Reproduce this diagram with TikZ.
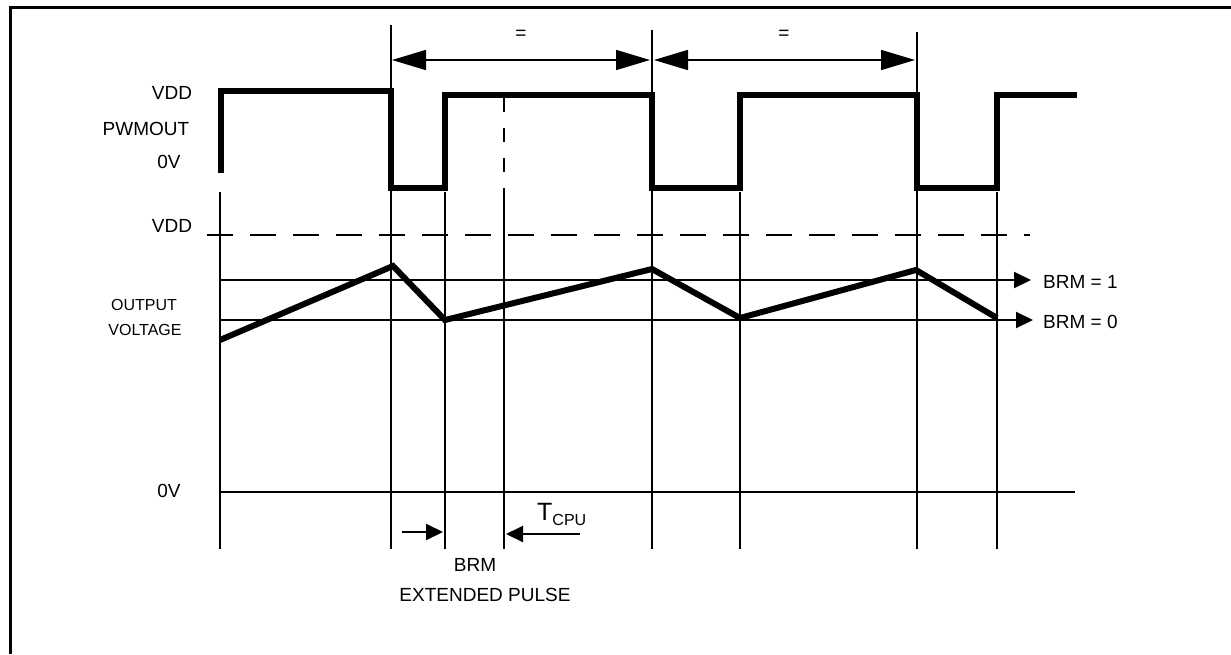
\documentclass[tikz,border=0pt]{standalone}
\usepackage{fontspec}
\setmainfont{Liberation Sans}
\usetikzlibrary{arrows.meta}
\begin{document}
\begin{tikzpicture}[x=1pt,y=-1pt,
  thinline/.style={line width=2pt},
  wave/.style={line width=6pt, line join=miter},
  lab/.style={font=\fontsize{19}{19}\selectfont, inner sep=0pt},
  smalllab/.style={font=\fontsize{16}{16}\selectfont, inner sep=0pt},
  dimarrow/.style={line width=1.6pt, {Triangle[length=34pt,width=20pt]}-{Triangle[length=34pt,width=20pt]}},
  tiparrow/.style={line width=2pt, -{Triangle[length=17pt,width=16pt]}}]
\useasboundingbox (0,0) rectangle (1231,654);
% frame
\draw[line width=3pt] (10,654) -- (10,7) -- (1231,7);
% vertical grid lines
\foreach \x in {220,445,740,997} \draw[thinline] (\x,192) -- (\x,549);
\foreach \x/\t in {391/25,652/30,917/32} \draw[thinline] (\x,\t) -- (\x,549);
\draw[thinline, dash pattern=on 14pt off 16pt] (504,98) -- (504,190);
\draw[thinline] (504,190) -- (504,549);
% dimension arrows
\coordinate (d1) at (392,60); \coordinate (d2) at (650,60);
\coordinate (d3) at (654,60); \coordinate (d4) at (915,60);
\draw[dimarrow] (d1) -- (d2);
\draw[dimarrow] (d3) -- (d4);
\node[lab] (eq1) at (521,35) {=};
\node[lab] (eq2) at (784,35) {=};
% horizontal reference lines
\draw[thinline, dash pattern=on 26pt off 17pt] (207,235) -- (1030,235);
\node[lab, anchor=west] (brm1) at (1043,282) {BRM = 1};
\node[lab, anchor=west] (brm0) at (1043,322) {BRM = 0};
\coordinate (h1) at (220,280); \coordinate (h0) at (220,320);
\draw[tiparrow] (h1) -- ([xshift=-12pt]brm1.west |- h1);
\draw[tiparrow] (h0) -- ([xshift=-10pt]brm0.west |- h0);
\draw[thinline] (220,492) -- (1075,492);
% PWM waveform
\draw[wave] (221,173) -- (221,91) -- (391,91) -- (391,188) -- (445,188) -- (445,95)
  -- (652,95) -- (652,188) -- (740,188) -- (740,95) -- (917,95) -- (917,188)
  -- (997,188) -- (997,95) -- (1077,95);
% output voltage waveform
\draw[wave] (220,340) -- (393,266) -- (445,320) -- (652,269) -- (740,318) -- (916,270) -- (997,318);
% labels
\node[lab] (vdd1) at (172,93) {VDD};
\node[lab] (pwm) at (146,129) {PWMOUT};
\node[lab] (ov1) at (169,162) {0V};
\node[lab] (vdd2) at (172,226) {VDD};
\node[smalllab] (out) at (144,305) {OUTPUT};
\node[smalllab] (volt) at (145,330) {VOLTAGE};
\node[lab] (ov2) at (169,491) {0V};
% BRM extended pulse
\coordinate (a1) at (402,532); \coordinate (a2) at (443,532);
\coordinate (b1) at (580,534); \coordinate (b2) at (506,534);
\draw[tiparrow] (a1) -- (a2);
\draw[tiparrow] (b1) -- (b2);
\node[inner sep=0pt, anchor=base west] (tcpu) at (537,520) {\fontsize{25}{25}\selectfont T\raisebox{-5pt}{\fontsize{16}{16}\selectfont CPU}};
\node[lab] (brm) at (475,565) {BRM};
\node[lab] (ext) at (485,595) {EXTENDED PULSE};
\end{tikzpicture}
\end{document}
